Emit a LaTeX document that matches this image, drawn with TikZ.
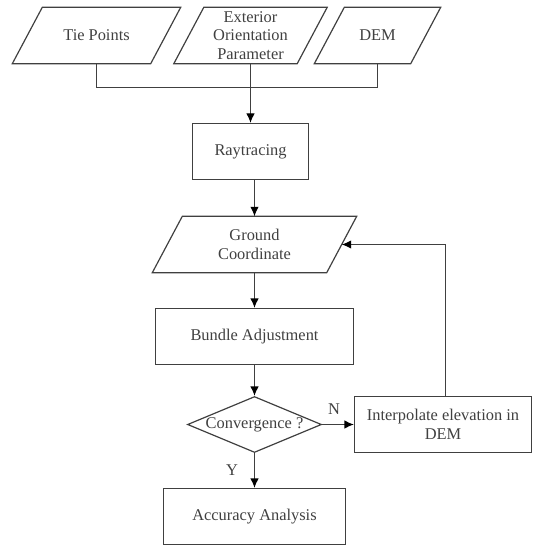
\documentclass[tikz,border=0pt]{standalone}
\usepackage{fontspec}
\setmainfont{Liberation Serif}
\usetikzlibrary{shapes.geometric,arrows.meta,calc}
\definecolor{ink}{gray}{0.25}
\newcommand{\dn}[1]{\raisebox{-1.2pt}{#1}}
\tikzset{
  x=1pt,y=-1pt,
  line/.style={draw=ink,line width=1.2pt},
  flow/.style={line,-{Latex[length=9.5pt,width=8.5pt,color=black]}},
  lab/.style={text=ink,font=\fontsize{16.4}{18.6}\selectfont,align=center,inner sep=0pt},
  boxn/.style={lab,line,rectangle,inner sep=0pt},
  paran/.style={lab,rectangle,minimum height=56pt,inner sep=0pt},
  dec/.style={lab,line,diamond,aspect=2.44,inner sep=0pt,minimum width=134pt,minimum height=56pt},
}
\newcommand{\slantbox}[1]{\draw[line,line join=miter] ($(#1.south west)+(-15,0)$) -- ($(#1.north west)+(15,0)$) -- ($(#1.north east)+(15,0)$) -- ($(#1.south east)+(-15,0)$) -- cycle;}
\begin{document}
\begin{tikzpicture}
\useasboundingbox (0,0) rectangle (532,545);
\node[paran,minimum width=138pt] (tie) at (96.5,35.5) {\dn{Tie Points}};
\node[paran,minimum width=123pt] (eop) at (250.5,35.5) {Exterior\\Orientation\\Parameter};
\node[paran,minimum width=96pt] (dem) at (377.5,35.5) {\dn{DEM}};
\node[paran,minimum width=174pt] (gc) at (254.5,244.5) {Ground\\Coordinate};
\slantbox{tie}\slantbox{eop}\slantbox{dem}\slantbox{gc}
\node[boxn,minimum width=116pt,minimum height=56pt] (ray) at (250.5,151.5) {\dn{Raytracing}};
\node[boxn,minimum width=198pt,minimum height=56pt] (ba) at (254.5,336.5) {\dn{Bundle Adjustment}};
\node[dec] (conv) at (254.5,424.5) {\hspace*{-8pt}\dn{Convergence ?}\hspace*{-8pt}};
\node[boxn,minimum width=177pt,minimum height=56pt] (interp) at (443,424.5) {Interpolate elevation in\\DEM};
\node[boxn,minimum width=182pt,minimum height=56pt] (acc) at (254.5,516.5) {\dn{Accuracy Analysis}};
\coordinate (join) at (eop.south |- 0,87.5);
\draw[line] (tie.south) |- (join);
\draw[line] (dem.south) |- (join);
\draw[flow] (eop.south) -- (ray.north);
\draw[flow] (ray.south -| gc.north) -- (gc.north);
\draw[flow] (gc.south) -- (ba.north);
\draw[flow] (ba.south -| conv.north) -- (conv.north);
\draw[flow] (conv.east) -- (interp.west);
\draw[flow] (conv.south) -- (acc.north);
\draw[flow] (interp.north -| 445.5,0) |- (gc.east);
\node[lab] (n) at (334,409.5) {N};
\node[lab] (y) at (232,470) {Y};
\end{tikzpicture}
\end{document}
